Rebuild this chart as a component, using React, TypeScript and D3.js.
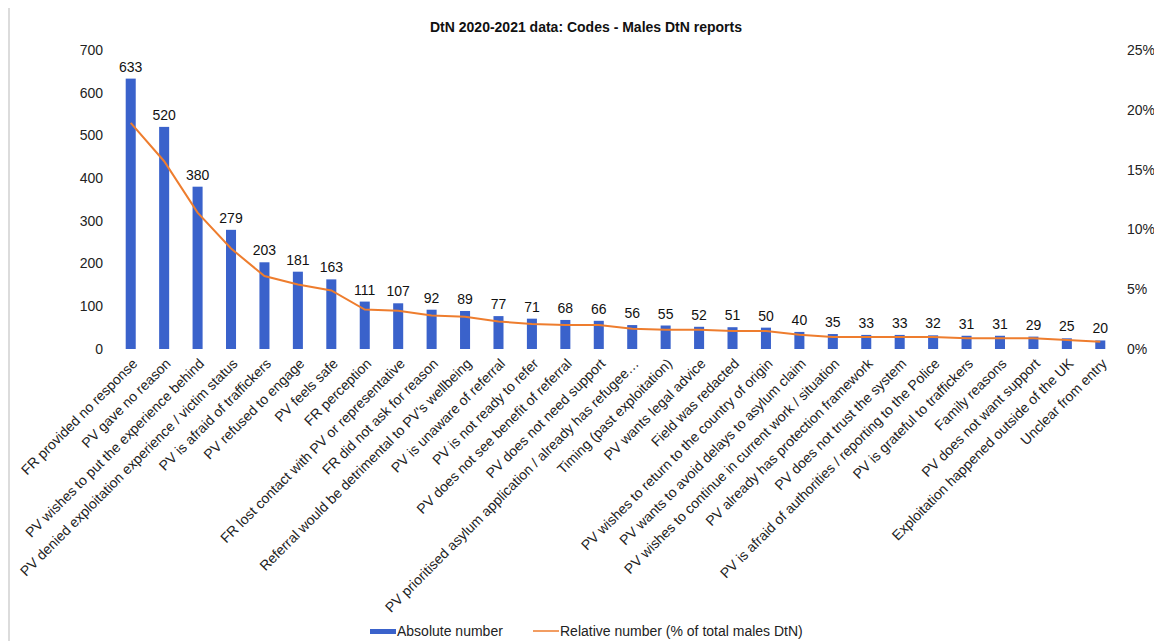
import React from "react";
import * as d3 from "d3";

const title = "DtN 2020-2021 data: Codes - Males DtN reports";

const categories = [
  "FR provided no response",
  "PV gave no reason",
  "PV wishes to put the experience behind",
  "PV denied exploitation experience / victim status",
  "PV is afraid of traffickers",
  "PV refused to engage",
  "PV feels safe",
  "FR perception",
  "FR lost contact with PV or representative",
  "FR did not ask for reason",
  "Referral would be detrimental to PV's wellbeing",
  "PV is unaware of referral",
  "PV is not ready to refer",
  "PV does not see benefit of referral",
  "PV does not need support",
  "PV prioritised asylum application / already has refugee…",
  "Timing (past exploitation)",
  "PV wants legal advice",
  "Field was redacted",
  "PV wishes to return to the country of origin",
  "PV wants to avoid delays to asylum claim",
  "PV wishes to continue in current work / situation",
  "PV already has protection framework",
  "PV does not trust the system",
  "PV is afraid of authorities / reporting to the Police",
  "PV is grateful to traffickers",
  "Family reasons",
  "PV does not want support",
  "Exploitation happened outside of the UK",
  "Unclear from entry",
];

const absoluteValues = [
  633, 520, 380, 279, 203, 181, 163, 111, 107, 92, 89, 77, 71, 68, 66, 56, 55,
  52, 51, 50, 40, 35, 33, 33, 32, 31, 31, 29, 25, 20,
];

// Relative number (% of total males DtN)
const relativeValues = [
  18.9, 15.7, 11.4, 8.4, 6.1, 5.4, 4.9, 3.3, 3.2, 2.8, 2.7, 2.3, 2.1, 2.0, 2.0,
  1.7, 1.6, 1.6, 1.5, 1.5, 1.2, 1.0, 1.0, 1.0, 1.0, 0.9, 0.9, 0.9, 0.75, 0.6,
];

const leftTicks = [0, 100, 200, 300, 400, 500, 600, 700];
const rightTicks = [0, 5, 10, 15, 20, 25];

const legendLabels = ["Absolute number", "Relative number (% of total males DtN)"];

const BLUE = "#3a62cb";
const ORANGE = "#ee7d2e";
const FONT = "Liberation Sans, Arial, sans-serif";

export default function App() {
  const width = 1154;
  const height = 641;

  const x = d3
    .scaleBand<string>()
    .domain(categories)
    .range([114, 1117])
    .paddingInner(0.7)
    .paddingOuter(0.35);
  const y = d3.scaleLinear().domain([0, 700]).range([349, 50]);
  const yR = d3.scaleLinear().domain([0, 25]).range([349, 50]);

  const cx = (c: string) => (x(c) as number) + x.bandwidth() / 2;

  const line = d3
    .line<number>()
    .x((_, i) => cx(categories[i]))
    .y((d) => yR(d));

  return (
    <svg
      width={width}
      height={height}
      style={{ position: "absolute", left: 0, top: 0, background: "#fff" }}
      fontFamily={FONT}
    >
      <rect x={0} y={0} width={width} height={height} fill="#fff" />
      <line x1={9} x2={9} y1={8} y2={height} stroke="#d0d0d0" strokeWidth={1.5} />

      <text
        x={586}
        y={32}
        textAnchor="middle"
        fontSize={14}
        fontWeight="bold"
        fill="#111"
      >
        {title}
      </text>

      {/* left axis */}
      {leftTicks.map((t) => (
        <text
          key={"l" + t}
          x={103}
          y={y(t)}
          dy="0.35em"
          textAnchor="end"
          fontSize={14}
          fill="#222"
        >
          {t}
        </text>
      ))}

      {/* right axis */}
      {rightTicks.map((t) => (
        <text
          key={"r" + t}
          x={1127}
          y={yR(t)}
          dy="0.35em"
          textAnchor="start"
          fontSize={14}
          fill="#222"
        >
          {t + "%"}
        </text>
      ))}

      {/* bars */}
      {categories.map((c, i) => (
        <rect
          key={"b" + i}
          x={x(c)}
          y={y(absoluteValues[i])}
          width={x.bandwidth()}
          height={y(0) - y(absoluteValues[i])}
          fill={BLUE}
        />
      ))}

      {/* bar labels */}
      {categories.map((c, i) => (
        <text
          key={"v" + i}
          x={cx(c)}
          y={y(absoluteValues[i]) - 7}
          textAnchor="middle"
          fontSize={14}
          fill="#111"
        >
          {absoluteValues[i]}
        </text>
      ))}

      {/* line */}
      <path d={line(relativeValues) || ""} fill="none" stroke={ORANGE} strokeWidth={2} />

      {/* x labels */}
      {categories.map((c, i) => (
        <text
          key={"x" + i}
          transform={`translate(${cx(c) + 4},${361}) rotate(-45)`}
          textAnchor="end"
          dy="0.35em"
          fontSize={14}
          fill="#222"
        >
          {c}
        </text>
      ))}

      {/* legend */}
      <rect x={370} y={629} width={26} height={5} fill={BLUE} />
      <text x={397} y={636} fontSize={14} fill="#222">
        {legendLabels[0]}
      </text>
      <line x1={533} x2={559} y1={631} y2={631} stroke={ORANGE} strokeWidth={1.5} />
      <text x={560} y={636} fontSize={14} fill="#222">
        {legendLabels[1]}
      </text>
    </svg>
  );
}
